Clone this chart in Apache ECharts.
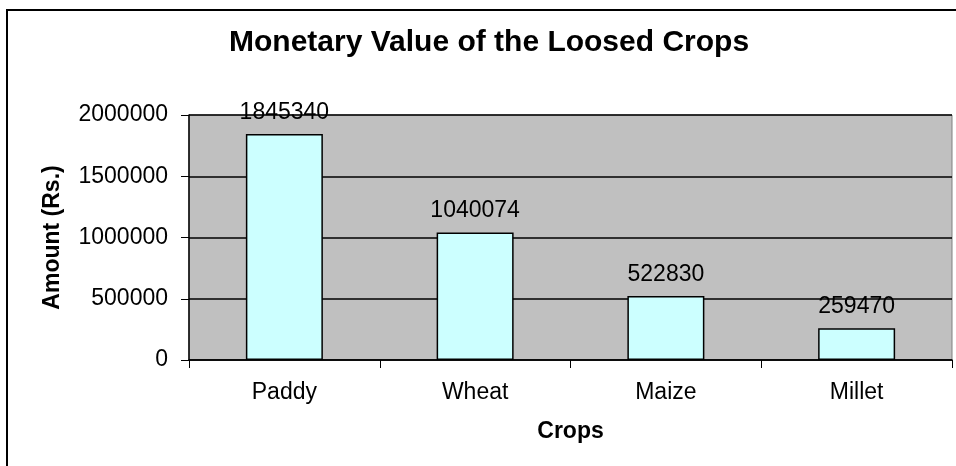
<!DOCTYPE html>
<html>
<head>
<meta charset="utf-8">
<script src="https://cdn.jsdelivr.net/npm/echarts@6/dist/echarts.min.js"></script>
<style>
  html, body { margin: 0; padding: 0; background: #fff; }
  #chart { width: 956px; height: 466px; }
</style>
</head>
<body>
<div id="chart"></div>
<script>
// crop data
var crops = ["Paddy", "Wheat", "Maize", "Millet"];
var amounts = [1845340, 1040074, 522830, 259470];
var yTicks = [0, 500000, 1000000, 1500000, 2000000];

var font = "'Liberation Sans', Arial, sans-serif";
var chart = echarts.init(document.getElementById("chart"));

var option = {
  animation: false,
  backgroundColor: "#ffffff",
  title: {
    text: "Monetary Value of the Loosed Crops",
    left: 229,
    top: 28,
    padding: 0,
    textStyle: { fontFamily: font, fontSize: 30, fontWeight: "bold", color: "#000" },
  },
  graphic: [
    {
      type: "rect",
      shape: { x: 7, y: 10, width: 1000, height: 500 },
      style: { fill: "none", stroke: "#000", lineWidth: 2 },
      z: 100,
    },
  ],
  grid: {
    left: 189,
    right: 4,
    top: 115,
    bottom: 106,
    show: true,
    backgroundColor: "#c0c0c0",
    borderColor: "#808080",
    borderWidth: 1,
  },
  xAxis: {
    type: "category",
    data: crops,
    name: "Crops",
    nameLocation: "middle",
    nameGap: 60,
    nameTextStyle: { fontFamily: font, fontSize: 23, fontWeight: "bold", color: "#000" },
    axisLine: { lineStyle: { color: "#000", width: 1.5 } },
    axisTick: { show: true, alignWithLabel: false, length: 8, lineStyle: { color: "#000" } },
    axisLabel: { fontFamily: font, fontSize: 23, color: "#000", margin: 21 },
  },
  yAxis: {
    type: "value",
    min: 0,
    max: 2000000,
    interval: 500000,
    name: "Amount (Rs.)",
    nameLocation: "middle",
    nameGap: 125,
    nameTextStyle: { fontFamily: font, fontSize: 23, fontWeight: "bold", color: "#000" },
    axisLine: { show: true, lineStyle: { color: "#000", width: 1.5 } },
    axisTick: { show: true, length: 8, lineStyle: { color: "#000" } },
    axisLabel: {
      fontFamily: font,
      fontSize: 23,
      color: "#000",
      margin: 21,
      formatter: function (v) {
        return yTicks.indexOf(v) >= 0 ? String(v) : "";
      },
    },
    splitLine: { show: true, lineStyle: { color: "#000", width: 1.5 } },
  },
  series: [
    {
      type: "bar",
      data: amounts,
      barWidth: 77,
      itemStyle: { color: "#ccffff", borderColor: "#000", borderWidth: 1.5 },
      label: {
        show: true,
        position: "top",
        distance: 10,
        fontFamily: font,
        fontSize: 23,
        color: "#000",
      },
    },
  ],
};

chart.setOption(option);
window.onresize = chart.resize;
</script>
</body>
</html>
